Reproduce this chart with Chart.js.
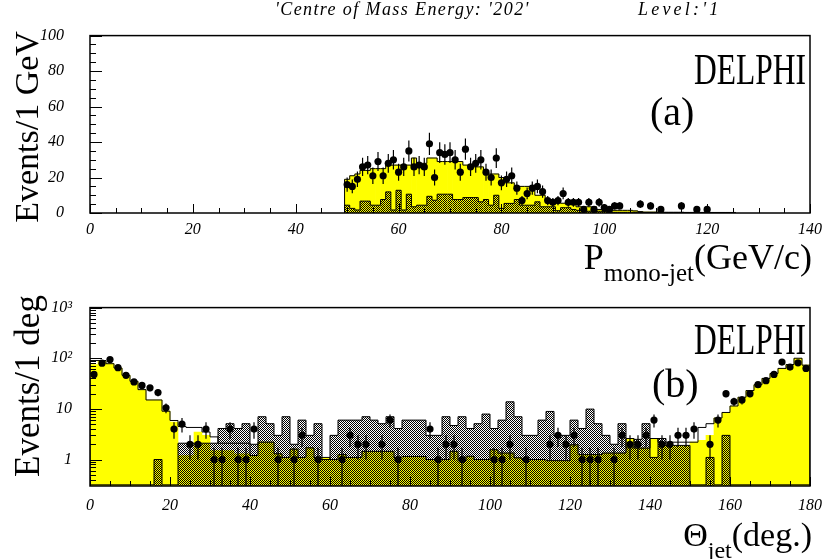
<!DOCTYPE html>
<html>
<head>
<meta charset="utf-8">
<script src="https://cdn.jsdelivr.net/npm/chart.js@4/dist/chart.umd.min.js"></script>
<style>
  body { margin: 0; background: #fff; }
  #page { position: relative; width: 832px; height: 559px; overflow: hidden; font-family: 'Liberation Serif', 'Times New Roman', serif; }
  .box { position: absolute; left: 0; width: 832px; }
  .lbl { position: absolute; white-space: nowrap; color: #000; line-height: 1; }
  .vt { transform: translate(-50%, -50%) rotate(-90deg); }
  .it { font-style: italic; letter-spacing: 1.4px; }
  .logo { transform: scaleX(0.7); transform-origin: right center; }
</style>
</head>
<body>
<div id="page">
  <div class="box" style="top:0;height:280px"><canvas id="top-chart"></canvas></div>
  <div class="box" style="top:280px;height:279px"><canvas id="bottom-chart"></canvas></div>

  <div class="lbl it" style="left:275px;top:0px;font-size:18px">'Centre of Mass Energy: '202'</div>
  <div class="lbl it" style="left:638px;top:0px;font-size:18px;letter-spacing:3.2px">Level:'1</div>

  <div class="lbl vt" style="left:27px;top:127px;font-size:34px">Events/1 GeV</div>
  <div class="lbl vt" style="left:27px;top:386px;font-size:35px">Events/1 deg</div>

  <div class="lbl logo" style="right:26px;top:47px;font-size:45px">DELPHI</div>
  <div class="lbl" style="left:650px;top:92px;font-size:40px">(a)</div>
  <div class="lbl logo" style="right:26px;top:317px;font-size:45px">DELPHI</div>
  <div class="lbl" style="left:652px;top:364px;font-size:40px">(b)</div>

  <div class="lbl" style="right:20px;top:239px;font-size:36px">P<span style="font-size:25px;position:relative;top:12px">mono-jet</span>(GeV/c)</div>
  <div class="lbl" style="right:20px;top:518px;font-size:34px">&Theta;<span style="font-size:24px;position:relative;top:12px">jet</span>(deg.)</div>
</div>

<script>
// ---- top panel: P(mono-jet), 1 GeV bins centred on integers ----
const pCenters = Array.from({ length: 76 }, (_, i) => 50 + i);   // 50 .. 125 GeV

const pSim = [19, 21, 22, 24, 24, 25, 25, 25, 27, 27,
              27, 27, 27, 31, 28, 28, 31, 31, 29, 29,
              29, 29, 29, 27, 27, 26, 26, 22, 22, 22,
              20, 17, 17, 15, 15, 15, 14, 10, 10, 7,
              7, 7, 5.5, 5, 5, 3.5, 3.5, 3.5, 3.5, 2,
              2, 1.7, 1.5, 1.5, 1.5, 1.5, 1.2, 0.8, 0.5, 0.5,
              0.5, 0.5, 0.4, 0.4, 0.4, 0.4, 0.3, 0.3, 0.3, 0.3,
              0.3, 0.2, 0.2, 0.2, 0.2, 0.2];

const pBkg = [4.4, 2.6, 1.7, 6.7, 6.7, 4.4, 4.4, 7.6, 11.9, 1.7,
              12.8, 1.7, 10.6, 3.5, 4.4, 4.4, 9.4, 7.2, 10.6, 10.6,
              10.6, 7.6, 7.6, 8.7, 8.7, 8.7, 6.3, 7.6, 4.4, 10,
              2.6, 5.4, 5.4, 7.6, 4.4, 4.4, 4.4, 6.3, 3.5, 3.5,
              3.5, 1.3, 3, 3, 2, 1.5, 1.2, 1, 1, 1,
              0.8, 0.4, 0.4, 0.4, 0.4, 0.4, 0.4, 0.3, 0.3, 0.3,
              0.3, 0.3, 0.3, 0.3, 0.3, 0.3, 0.3, 0.3, 0.3, 0.3,
              0.3, 0.3, 0.3, 0.3, 0.3, 0.3];

const pData = [16, 15, 19, 26, 27, 21, 29, 21, 28, 30,
               23, 26, 35, 26, 27, 26, 39, 20, 34, 33,
               34, 30, 23, 36, 26, 28, 30, 23, 20, 31,
               17, 19, 21, 14, 7, 11, 14, 15, 12, 7,
               6, 7, 11, 6, 6, 6, 2, 6, 2, 6,
               3, 2, 4, 4, null, null, null, 5, null, 4,
               null, 2, null, null, null, 4, null, null, 2, null,
               2, null, null, null, null, null];

// ---- bottom panel: Theta(jet), 2 deg bins ----
const thCenters = Array.from({ length: 90 }, (_, i) => 2 * i + 1); // 1 .. 179 deg

const thSim = [75, 88, 78, 64, 46, 35, 24, 15, 15, 9,
               5.5, 1.2, 1.2, 3.5, 3.0, 1.5, 1.5, 1.5, 1.3, 1.3,
               1.2, 2.2, 2.2, 1.3, 1.1, 1.6, 1.1, 1.7, 1.1, 1.1,
               1.0, 1.25, 1.1, 1.1, 1.45, 1.45, 1.45, 1.45, 1.1, 1.15,
               1.15, 1.15, 1.0, 1.0, 1.0, 1.45, 0.95, 1.16, 1.0, 1.0,
               1.56, 1.34, 1.34, 1.08, 1.0, 1.0, 1.0, 0.95, 0.95, 0.95,
               1.95, 1.25, 1.25, 1.25, 1.34, 1.34, 1.34, 2.6, 1.68, 1.68,
               2.6, 1.9, 1.9, 1.9, 1.9, 2.2, 2.4, 3.0, 6.6, 8.5,
               11.4, 17, 23, 30, 40, 50, 63, 75, 100, 73];

const thTotal = [90, 90, 78, 64, 46, 35, 24, 15, 15, 9,
                 5.9, 4.5, 4.3, 4.3, 3.5, 2.8, 2.1, 2.1, 2.1, 2.1,
                 1.2, 2.2, 2.2, 1.3, 1.1, 1.6, 1.1, 1.7, 1.1, 1.1,
                 1.0, 1.25, 1.1, 1.1, 1.45, 1.45, 1.45, 1.45, 1.1, 1.15,
                 1.15, 1.15, 1.0, 1.0, 1.0, 1.45, 0.95, 1.16, 1.0, 1.0,
                 1.56, 1.34, 1.34, 1.08, 1.0, 1.0, 1.0, 0.95, 0.95, 0.95,
                 1.95, 1.25, 1.25, 1.25, 1.34, 1.34, 1.34, 2.6, 1.68, 1.68,
                 2.6, 2.2, 2.2, 2.2, 2.2, 2.2, 4.3, 5.1, 6.6, 8.5,
                 11.4, 17, 23, 30, 40, 50, 63, 75, 100, 73];

const thBkg = [null, null, null, null, null, null, null, null, 1.0, null,
               null, 2.1, 2.1, 2.1, 2.1, 2.1, 4.1, 5.1, 4.1, 5.1,
               2.0, 7.0, 5.1, 3.0, 7.0, 2.0, 6.0, 3.0, 5.1, 1.0,
               3.0, 6.0, 6.0, 6.0, 7.0, 6.0, 5.1, 7.0, 4.1, 6.0,
               6.0, 6.0, 3.0, 3.0, 7.0, 4.7, 7.0, 4.1, 5.1, 7.9,
               4.1, 6.0, 13.8, 7.0, 3.0, 3.0, 6.0, 8.9, 3.0, 3.0,
               6.0, 4.1, 9.9, 5.1, 3.0, 2.0, 5.1, 1.7, 2.5, 5.1,
               1.1, 2.6, 1.9, 1.9, 1.9, null, null, 1.1, null, 3.0,
               null, null, null, null, null, null, null, null, null, null];

const thData = [48, 80, 94, 65, 46, 34, 29, 26, 21, 10.5,
                4, 5, 2, 2, 4, 1, 1, 4, 1, 1,
                4, null, null, 1, null, 1, 3, null, 1, null,
                null, 1, 3, 2, 2, null, 2, 6, 1, null,
                null, null, 4, 1, 2, 2, 1, null, null, null,
                1, 1, 2, null, 1, null, null, 2, 3, 2,
                3, 1, 1, 1, null, 1, 3, 2, 2, 3,
                6, 2, 2, 3, 3, 4, null, 2, 6, 20,
                14, 15, 20, 30, 36, 48, 84, 67, 81, 63];

const pTicks = [0, 20, 40, 60, 80, 100, 120, 140];
const thTicks = [0, 20, 40, 60, 80, 100, 120, 140, 160, 180];
const logMin = 0.3162;

Chart.defaults.font.family = "'Liberation Serif', 'Times New Roman', serif";
Chart.defaults.font.style = 'italic';
Chart.defaults.font.size = 16;
Chart.defaults.color = '#000';

function pts(xs, ys) {
  return xs.map((x, i) => ({ x: x, y: ys[i] }));
}

// histogram outline as a stepped line through the bin edges
function steps(xs, ys, w, base) {
  const out = [{ x: xs[0] - w / 2, y: base }];
  xs.forEach((x, i) => out.push({ x: x - w / 2, y: ys[i] || base }));
  const end = xs[xs.length - 1] + w / 2;
  out.push({ x: end, y: ys[ys.length - 1] || base });
  out.push({ x: end, y: base });
  return out;
}

// 1px black checker, transparent in between (PAW cross-hatch)
const pc = document.createElement('canvas');
pc.width = 2; pc.height = 2;
const pg = pc.getContext('2d');
pg.fillStyle = '#000';
pg.fillRect(0, 0, 1, 1);
pg.fillRect(1, 1, 1, 1);
const hatch = pg.createPattern(pc, 'repeat');

// inward ticks and the frame, PAW style
const frameTicks = {
  id: 'frameTicks',
  afterDraw(chart, args, opts) {
    const { ctx, chartArea: a, scales: { x, y } } = chart;
    ctx.save();
    ctx.strokeStyle = '#000';
    ctx.lineWidth = 1;
    ctx.beginPath();
    opts.xTicks.forEach(v => {
      const px = Math.round(x.getPixelForValue(v)) + 0.5;
      const len = opts.xMajor.includes(v) ? 9 : 5;
      ctx.moveTo(px, a.bottom); ctx.lineTo(px, a.bottom - len);
    });
    opts.yTicks.forEach(v => {
      const py = Math.round(y.getPixelForValue(v)) + 0.5;
      const len = opts.yMajor.includes(v) ? 12 : 6;
      ctx.moveTo(a.left, py); ctx.lineTo(a.left + len, py);
    });
    ctx.stroke();
    ctx.lineWidth = 1.5;
    ctx.strokeRect(a.left, a.top, a.width, a.height);
    ctx.restore();
  }
};

// poisson error bars on the data points
const errorBars = {
  id: 'errorBars',
  afterDatasetsDraw(chart, args, opts) {
    const { ctx, chartArea: a, scales: { y } } = chart;
    const meta = chart.getDatasetMeta(0);
    const vals = chart.data.datasets[0].data;
    ctx.save();
    ctx.beginPath();
    ctx.rect(a.left, a.top, a.width, a.height);
    ctx.clip();
    ctx.strokeStyle = '#000';
    ctx.lineWidth = 1.2;
    ctx.beginPath();
    meta.data.forEach((el, i) => {
      const v = vals[i].y;
      if (v == null) return;
      const e = Math.sqrt(v * opts.bin) / opts.bin;
      const lo = Math.max(v - e, y.min);
      ctx.moveTo(el.x, y.getPixelForValue(v + e));
      ctx.lineTo(el.x, y.getPixelForValue(lo));
    });
    ctx.stroke();
    ctx.restore();
  }
};

function datasets(xs, sim, total, bkg, data, w, base) {
  return [
    { type: 'line', data: pts(xs, data), showLine: false, pointRadius: 3.6,
      pointBackgroundColor: '#000', pointBorderWidth: 0, order: 0 },
    { type: 'line', data: steps(xs, bkg, w, base), stepped: 'before', borderColor: '#000',
      borderWidth: 1, pointRadius: 0, fill: false, order: 1 },
    { type: 'bar', data: pts(xs, bkg), backgroundColor: hatch, grouped: false,
      barPercentage: 1, categoryPercentage: 1, inflateAmount: 0, order: 2 },
    { type: 'line', data: steps(xs, total, w, base), stepped: 'before', borderColor: '#000',
      borderWidth: 1, pointRadius: 0, fill: false, order: 3 },
    { type: 'bar', data: pts(xs, sim), backgroundColor: '#ffff00', grouped: false,
      barPercentage: 1, categoryPercentage: 1, order: 4 }
  ];
}

const minor = (lo, hi, step) => {
  const t = [];
  for (let v = lo; v <= hi + 1e-9; v += step) t.push(v);
  return t;
};
const logMinor = [];
[0.1, 1, 10, 100].forEach(d => [1, 2, 3, 4, 5, 6, 7, 8, 9].forEach(m => {
  const v = d * m;
  if (v >= logMin && v <= 1000) logMinor.push(v);
}));
logMinor.push(1000);

var topChart = new Chart(document.getElementById('top-chart'), {
  type: 'bar',
  data: { datasets: datasets(pCenters, pSim, pSim, pBkg, pData, 1, 0) },
  options: {
    responsive: true,
    maintainAspectRatio: false,
    animation: false,
    layout: { padding: { left: 0, right: 22, top: 33, bottom: 37 } },
    plugins: {
      legend: { display: false },
      tooltip: { enabled: false },
      frameTicks: { xTicks: minor(0, 140, 5), xMajor: pTicks, yTicks: minor(0, 100, 5), yMajor: [0, 20, 40, 60, 80, 100] },
      errorBars: { bin: 1 }
    },
    scales: {
      x: {
        type: 'linear', min: 0, max: 140, offset: false,
        afterBuildTicks: s => { s.ticks = pTicks.map(v => ({ value: v })); },
        afterFit: s => { s.height = 30; },
        grid: { display: false, drawTicks: false },
        border: { display: false },
        ticks: { padding: 7, maxRotation: 0 }
      },
      y: {
        min: 0, max: 100,
        ticks: { stepSize: 20, padding: 26 },
        afterFit: s => { s.width = 90; },
        grid: { display: false, drawTicks: false },
        border: { display: false }
      }
    }
  },
  plugins: [frameTicks, errorBars]
});

const logLabels = { 1: '1', 10: '10', 100: '10\u00b2', 1000: '10\u00b3' };

var bottomChart = new Chart(document.getElementById('bottom-chart'), {
  type: 'bar',
  data: { datasets: datasets(thCenters, thSim, thTotal, thBkg, thData, 2, logMin) },
  options: {
    responsive: true,
    maintainAspectRatio: false,
    animation: false,
    layout: { padding: { left: 0, right: 21, top: 24, bottom: 43 } },
    plugins: {
      legend: { display: false },
      tooltip: { enabled: false },
      frameTicks: { xTicks: minor(0, 180, 5), xMajor: thTicks, yTicks: logMinor, yMajor: [1, 10, 100, 1000] },
      errorBars: { bin: 2 }
    },
    scales: {
      x: {
        type: 'linear', min: 0, max: 180, offset: false,
        afterBuildTicks: s => { s.ticks = thTicks.map(v => ({ value: v })); },
        afterFit: s => { s.height = 30; },
        grid: { display: false, drawTicks: false },
        border: { display: false },
        ticks: { padding: 10, maxRotation: 0 }
      },
      y: {
        type: 'logarithmic', min: logMin, max: 1000,
        afterBuildTicks: s => { s.ticks = [1, 10, 100, 1000].map(v => ({ value: v })); },
        ticks: { padding: 18, callback: v => logLabels[v] },
        afterFit: s => { s.width = 90; },
        grid: { display: false, drawTicks: false },
        border: { display: false }
      }
    }
  },
  plugins: [frameTicks, errorBars]
});
</script>
</body>
</html>
